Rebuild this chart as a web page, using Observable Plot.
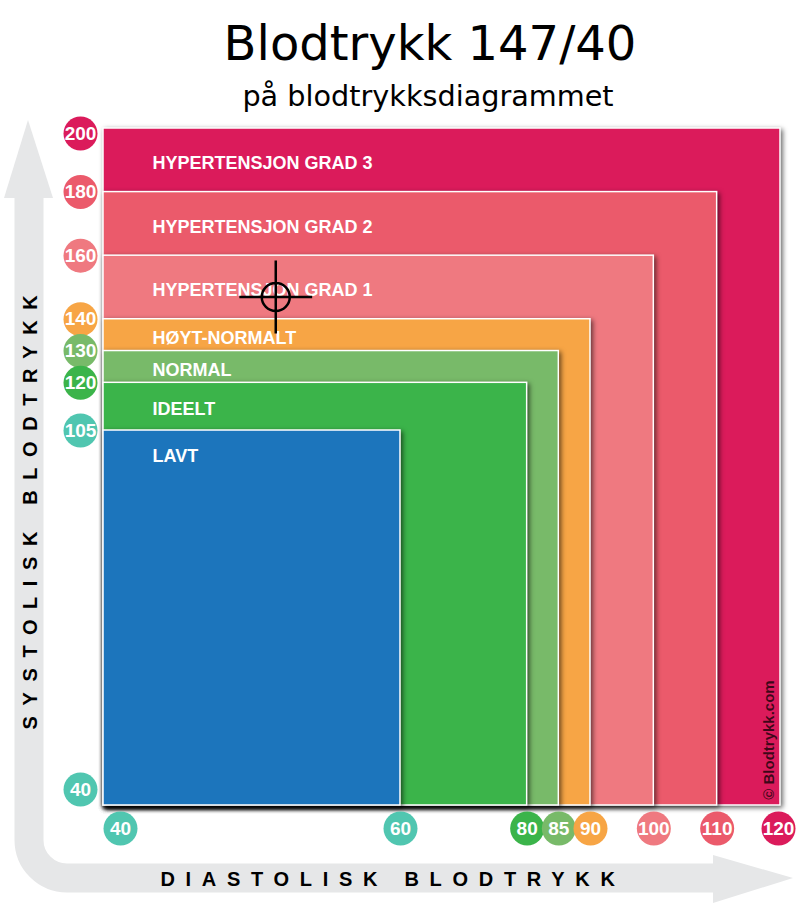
<!DOCTYPE html>
<html>
<head>
<meta charset="utf-8">
<script src="https://cdn.jsdelivr.net/npm/d3@7"></script>
<script src="https://cdn.jsdelivr.net/npm/@observablehq/plot@0.6"></script>
<style>
  body { margin: 0; background: #fff; }
  #wrap { position: relative; width: 800px; height: 908px; overflow: hidden; background: #fff; }
  #title { position: absolute; left: 30px; width: 800px; top: 19px; text-align: center;
           font-family: "DejaVu Sans", Verdana, sans-serif; font-size: 48px; line-height: 1; color: #000; }
  #subtitle { position: absolute; left: 28px; width: 800px; top: 82px; text-align: center;
           font-family: "DejaVu Sans", Verdana, sans-serif; font-size: 28.7px; line-height: 1; color: #000; }
  #chart { position: absolute; left: 0; top: 112px; }
</style>
</head>
<body>
<div id="wrap">
  <div id="title">Blodtrykk 147/40</div>
  <div id="subtitle">på blodtrykksdiagrammet</div>
  <div id="chart"></div>
</div>
<script>
// ---- data ----
const categories = ["HYPERTENSJON GRAD 3", "HYPERTENSJON GRAD 2", "HYPERTENSJON GRAD 1", "HØYT-NORMALT", "NORMAL", "IDEELT", "LAVT"];
const systolic   = [200, 180, 160, 140, 130, 120, 105];
const diastolic  = [120, 110, 100, 90, 85, 80, 60];
const bandColors = ["#DB1B5B", "#EB5A6B", "#EF7980", "#F7A545", "#78BA69", "#3BB44A", "#1C75BC"];

const yTickValues = [200, 180, 160, 140, 130, 120, 105, 40];
const yTickColors = ["#DB1B5B", "#EB5A6B", "#EF7980", "#F7A545", "#78BA69", "#3BB44A", "#50C6B0", "#50C6B0"];
const xTickValues = [40, 60, 80, 85, 90, 100, 110, 120];
const xTickColors = ["#50C6B0", "#50C6B0", "#3BB44A", "#78BA69", "#F7A545", "#EF7980", "#EB5A6B", "#DB1B5B"];

const readingSys = 147;
const readingDia = 40;
const markerDiaPosition = 51.6; // where the marker is drawn on the diastolic axis

const xAxisTitle = "DIASTOLISK BLODTRYKK";
const yAxisTitle = "SYSTOLISK BLODTRYKK";
const credit = "© Blodtrykk.com";

// ---- derived tables ----
const bands = categories.map((name, i) => ({
  name, sys: systolic[i], dia: diastolic[i], color: bandColors[i],
  labelY: i < categories.length - 1 ? (systolic[i] + systolic[i + 1]) / 2 : systolic[i] - 4
}));
const yTicks = yTickValues.map((v, i) => ({v, color: yTickColors[i]}));
const xTicks = xTickValues.map((v, i) => ({v, color: xTickColors[i]}));
const reading = [{dia: markerDiaPosition, sys: readingSys, label: `${readingSys}/${readingDia}`}];

const sans = "Liberation Sans, Arial, sans-serif";
const grey = "#e6e7e8";

const crosshair = {
  draw(ctx, size) {
    const r = Math.sqrt(size / Math.PI);
    const L = r * 2.6;
    ctx.moveTo(-L, 0); ctx.lineTo(L, 0);
    ctx.moveTo(0, -L); ctx.lineTo(0, L);
    ctx.moveTo(r, 0); ctx.arc(0, 0, r, 0, 2 * Math.PI);
  }
};

function background(index, scales, values, dim) {
  const g = d3.create("svg:g");
  const cx = 29, by = 766, R = 38;
  g.append("path")
    .attr("d", `M${cx},84 L${cx},${by - R} A${R},${R} 0 0 0 ${cx + R},${by} L715,${by}`)
    .attr("fill", "none").attr("stroke", grey).attr("stroke-width", 29);
  g.append("path").attr("d", `M28,8 L53,86 L4,86 Z`).attr("fill", grey);
  g.append("path").attr("d", `M793,${by} L713,743 L713,791 Z`).attr("fill", grey);
  g.append("text").text(yAxisTitle)
    .attr("transform", `translate(${cx + 1},395) rotate(-90)`)
    .attr("text-anchor", "middle").attr("dominant-baseline", "central")
    .attr("font-family", sans).attr("font-weight", "bold").attr("font-size", 20)
    .attr("letter-spacing", 10.6).attr("fill", "#000");
  g.append("text").text(xAxisTitle)
    .attr("x", 393).attr("y", by + 1)
    .attr("text-anchor", "middle").attr("dominant-baseline", "central")
    .attr("font-family", sans).attr("font-weight", "bold").attr("font-size", 20)
    .attr("letter-spacing", 10.7).attr("fill", "#000");
  return g.node();
}

function foreground(index, scales, values, dim) {
  const g = d3.create("svg:g");
  g.append("text").text(credit)
    .attr("transform", `translate(768,628) rotate(-90)`)
    .attr("text-anchor", "middle").attr("dominant-baseline", "central")
    .attr("font-family", sans).attr("font-weight", "bold").attr("font-size", 15)
    .attr("fill", "rgba(0,0,0,0.72)");
  return g.node();
}

function tickMarks(data, opts) {
  return [
    Plot.dot(data, {...opts, r: 17, fill: "color", stroke: null}),
    Plot.text(data, {...opts, text: d => String(d.v), fill: "white", fontWeight: "bold",
      fontSize: 19, fontFamily: sans, textAnchor: "middle", lineAnchor: "middle"})
  ];
}

const chart = Plot.plot({
  width: 800, height: 796,
  marginLeft: 103, marginRight: 20, marginTop: 16, marginBottom: 103,
  style: {background: "white", overflow: "visible"},
  x: {type: "linear", domain: [40, 60, 120], range: [103, 400, 780], axis: null},
  y: {type: "linear", domain: [40, 105, 200], range: [693, 318, 16], axis: null},
  color: {type: "identity"},
  marks: [
    background,
    Plot.rect(bands, {x1: d => 40, x2: "dia", y1: d => 40, y2: "sys", fill: "color", stroke: "white", strokeWidth: 1.5}),
    Plot.text(bands, {x: d => 40, y: "labelY", dx: 49, dy: 3, text: "name", textAnchor: "start",
      fill: "white", fontWeight: "bold", fontSize: 18, fontFamily: sans}),
    ...tickMarks(yTicks.slice(0, 1), {y: "v", frameAnchor: "left", dx: -23, dy: 5}),
    ...tickMarks(yTicks.slice(1, -1), {y: "v", frameAnchor: "left", dx: -23}),
    ...tickMarks(yTicks.slice(-1), {y: "v", frameAnchor: "left", dx: -23, dy: -16}),
    ...tickMarks(xTicks.slice(0, 1), {x: "v", frameAnchor: "bottom", dy: 23, dx: 17}),
    ...tickMarks(xTicks.slice(1, -1), {x: "v", frameAnchor: "bottom", dy: 23}),
    ...tickMarks(xTicks.slice(-1), {x: "v", frameAnchor: "bottom", dy: 23, dx: -2}),
    Plot.dot(reading, {x: "dia", y: "sys", symbol: crosshair, r: 14, stroke: "black", strokeWidth: 2.5, fill: "none"}),
    foreground
  ]
});

d3.select(chart).selectAll('g[aria-label="rect"] rect')
  .style("filter", "drop-shadow(2px 2px 2.5px rgba(0,0,0,0.6))");

document.getElementById("chart").appendChild(chart);
</script>
</body>
</html>
